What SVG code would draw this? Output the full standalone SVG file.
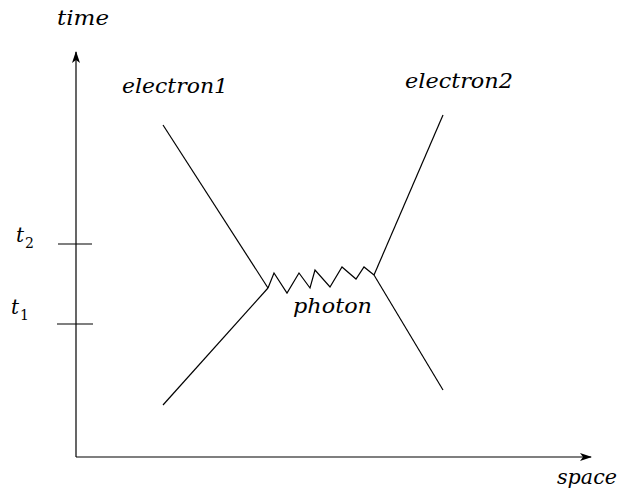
<svg xmlns="http://www.w3.org/2000/svg" width="621" height="493" viewBox="0 0 621 493">
<style>
.ln{stroke:#000;stroke-width:1.2;fill:none}
.lb{font-family:"DejaVu Serif","Liberation Serif",serif;font-style:italic;font-size:20px;fill:#000}
.sb{font-family:"DejaVu Serif","Liberation Serif",serif;font-size:14px;fill:#000}
</style>
<defs>
<marker id="ah" markerWidth="12" markerHeight="8" refX="11" refY="4" orient="auto" markerUnits="userSpaceOnUse">
<path d="M0,0 L12,4 L0,8 L3,4 Z" fill="#000"/>
</marker>
</defs>
<rect width="621" height="493" fill="#fff"/>
<g id="axes">
<line class="ln" x1="76" y1="457" x2="76" y2="52" marker-end="url(#ah)"/>
<line class="ln" x1="76" y1="457" x2="591" y2="457" marker-end="url(#ah)"/>
<line class="ln" x1="58" y1="244" x2="92" y2="244"/>
<line class="ln" x1="57" y1="324" x2="93" y2="324"/>
</g>
<g id="connectors">
<line class="ln" x1="163" y1="125" x2="268" y2="288"/>
<line class="ln" x1="163" y1="405" x2="268" y2="288"/>
<line class="ln" x1="443" y1="115" x2="374" y2="275"/>
<line class="ln" x1="374" y1="275" x2="443" y2="390"/>
<polyline class="ln" points="268,288 274,273 287,293 299,273 310,288 315,270 330,287 342,267 356,279 364,267 374,275"/>
</g>
<g id="labels">
<text class="lb" x="57" y="25" textLength="52" lengthAdjust="spacingAndGlyphs">time</text>
<text class="lb" x="122" y="93" textLength="106" lengthAdjust="spacingAndGlyphs">electron1</text>
<text class="lb" x="405" y="88" textLength="108" lengthAdjust="spacingAndGlyphs">electron2</text>
<text class="lb" x="293" y="313" textLength="79" lengthAdjust="spacingAndGlyphs">photon</text>
<text class="lb" x="557" y="484" textLength="60" lengthAdjust="spacingAndGlyphs">space</text>
<text class="lb" x="16" y="242">t</text><text class="sb" x="25" y="248">2</text>
<text class="lb" x="11" y="314">t</text><text class="sb" x="20" y="320">1</text>
</g>
</svg>
